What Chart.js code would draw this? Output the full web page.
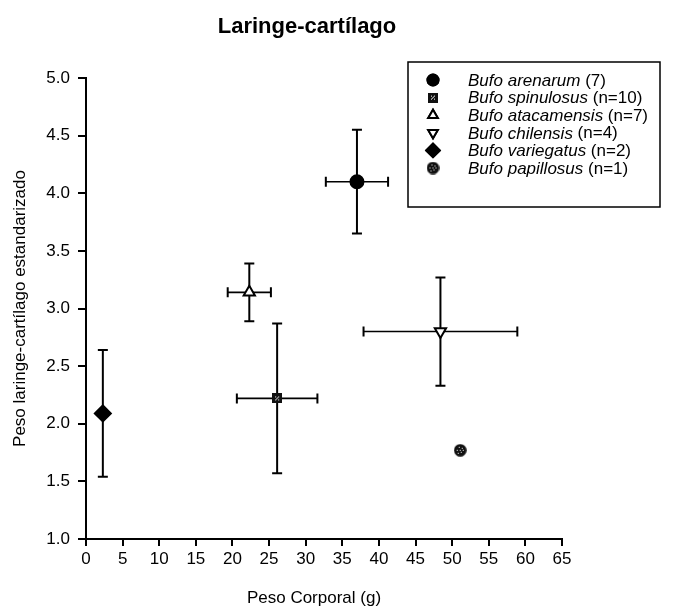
<!DOCTYPE html>
<html><head><meta charset="utf-8">
<script src="https://cdn.jsdelivr.net/npm/chart.js@4.4.1/dist/chart.umd.min.js"></script>
<style>html,body{margin:0;padding:0;background:#fff}#wrap{width:675px;height:611px}</style>
</head><body><div id="wrap"><canvas id="c" width="675" height="611"></canvas></div>
<script>
const titleText = 'Laringe-cartílago';
const xTitle = 'Peso Corporal (g)';
const yTitle = 'Peso laringe-cartílago estandarizado';
const speciesNames = ['Bufo arenarum', 'Bufo spinulosus', 'Bufo atacamensis', 'Bufo chilensis', 'Bufo variegatus', 'Bufo papillosus'];
const speciesN = ['(7)', '(n=10)', '(n=7)', '(n=4)', '(n=2)', '(n=1)'];
const xMean = [37.0, 26.1, 22.3, 48.4, 2.3, 51.1];
const yMean = [4.10, 2.22, 3.14, 2.80, 2.09, 1.77];
const xErr = [4.25, 5.5, 2.95, 10.5, 0, 0];
const yErr = [0.45, 0.65, 0.25, 0.47, 0.55, 0];
const xTicks = {min: 0, max: 65, step: 5};
const yTicks = {min: 1.0, max: 5.0, step: 0.5};

const FONT = '"Liberation Sans", Arial, sans-serif';

function makeSquare() {
  const c = document.createElement('canvas'); c.width = 10; c.height = 10;
  const g = c.getContext('2d');
  g.fillStyle = '#111'; g.fillRect(0, 0, 10, 10);
  g.fillStyle = '#fff';
  [[3,3],[6,3],[4,5],[3,6],[6,6],[5,4]].forEach(p => g.fillRect(p[0], p[1], 1, 1));
  return c;
}
function makeDots() {
  const c = document.createElement('canvas'); c.width = 13; c.height = 13;
  const g = c.getContext('2d');
  g.fillStyle = '#111'; g.beginPath(); g.arc(6.5, 6.5, 6.3, 0, Math.PI * 2); g.fill();
  g.fillStyle = '#fff';
  [[5,3],[8,4],[3,6],[7,8],[6,6],[4,9],[9,6]].forEach(p => g.fillRect(p[0], p[1], 1, 1));
  return c;
}
const sqImg = makeSquare();
const dotImg = makeDots();

const styles = [
  {pointStyle: 'circle', radius: 6.5, bg: '#000', rot: 0},
  {pointStyle: sqImg, radius: 5, bg: '#000', rot: 0},
  {pointStyle: 'triangle', radius: 6.5, bg: '#fff', rot: 0},
  {pointStyle: 'triangle', radius: 6.5, bg: '#fff', rot: 180},
  {pointStyle: 'rectRot', radius: 8, bg: '#000', rot: 0},
  {pointStyle: dotImg, radius: 6.5, bg: '#000', rot: 0}
];

const datasets = speciesNames.map((n, i) => ({
  label: n + ' ' + speciesN[i],
  data: [{x: xMean[i], y: yMean[i]}],
  pointStyle: styles[i].pointStyle,
  pointRadius: styles[i].radius,
  pointRotation: styles[i].rot,
  backgroundColor: styles[i].bg,
  borderColor: '#000',
  borderWidth: 2,
  _xErr: xErr[i],
  _yErr: yErr[i]
}));

const errorBars = {
  id: 'errorBars',
  beforeDatasetsDraw(chart) {
    const ctx = chart.ctx, xs = chart.scales.x, ys = chart.scales.y;
    ctx.save();
    ctx.strokeStyle = '#000';
    chart.data.datasets.forEach(ds => {
      const p = ds.data[0];
      const px = xs.getPixelForValue(p.x), py = ys.getPixelForValue(p.y);
      if (ds._yErr > 0) {
        const t = ys.getPixelForValue(p.y + ds._yErr), b = ys.getPixelForValue(p.y - ds._yErr);
        ctx.lineWidth = 2;
        ctx.beginPath(); ctx.moveTo(px, t); ctx.lineTo(px, b); ctx.stroke();
        ctx.beginPath(); ctx.moveTo(px - 5, t); ctx.lineTo(px + 5, t); ctx.moveTo(px - 5, b); ctx.lineTo(px + 5, b); ctx.stroke();
      }
      if (ds._xErr > 0) {
        const l = xs.getPixelForValue(p.x - ds._xErr), r = xs.getPixelForValue(p.x + ds._xErr);
        ctx.lineWidth = 1.6;
        ctx.beginPath(); ctx.moveTo(l, py); ctx.lineTo(r, py); ctx.stroke();
        ctx.lineWidth = 2;
        ctx.beginPath(); ctx.moveTo(l, py - 5); ctx.lineTo(l, py + 5); ctx.moveTo(r, py - 5); ctx.lineTo(r, py + 5); ctx.stroke();
      }
    });
    ctx.restore();
  }
};

function drawMarker(ctx, i, x, y) {
  const s = styles[i];
  ctx.save();
  ctx.fillStyle = s.bg; ctx.strokeStyle = '#000'; ctx.lineWidth = 2;
  Chart.helpers.drawPoint(ctx, {pointStyle: s.pointStyle, radius: s.radius * 0.85, rotation: s.rot, borderWidth: 2}, x, y);
  if (typeof s.pointStyle === 'string') { ctx.fill(); ctx.stroke(); }
  ctx.restore();
}

const overlay = {
  id: 'overlay',
  afterDraw(chart) {
    const ctx = chart.ctx;
    ctx.save();
    ctx.fillStyle = '#000';
    ctx.font = 'bold 22px ' + FONT;
    ctx.textAlign = 'center'; ctx.textBaseline = 'alphabetic';
    ctx.fillText(titleText, 307, 33);
    ctx.font = '17px ' + FONT;
    ctx.fillText(xTitle, 314, 603);
    // legend box
    const bx = 408, by = 62, bw = 252, bh = 145;
    ctx.fillStyle = '#fff'; ctx.fillRect(bx, by, bw, bh);
    ctx.strokeStyle = '#000'; ctx.lineWidth = 1.5; ctx.strokeRect(bx, by, bw, bh);
    ctx.textAlign = 'left'; ctx.textBaseline = 'middle';
    for (let i = 0; i < speciesNames.length; i++) {
      const yy = 80 + i * 17.6;
      drawMarker(ctx, i, 433, yy);
      ctx.fillStyle = '#000';
      ctx.font = 'italic 17px ' + FONT;
      ctx.fillText(speciesNames[i], 468, yy + 1);
      const w = ctx.measureText(speciesNames[i] + ' ').width;
      ctx.font = '17px ' + FONT;
      ctx.fillText(speciesN[i], 468 + w, yy + 1);
    }
    ctx.restore();
  }
};

new Chart(document.getElementById('c'), {
  type: 'scatter',
  data: {datasets},
  options: {
    responsive: false,
    animation: false,
    layout: {padding: {top: 78, right: 113, left: 10, bottom: 0}},
    plugins: {legend: {display: false}, tooltip: {enabled: false}, title: {display: false}},
    scales: {
      x: {
        type: 'linear', min: xTicks.min, max: xTicks.max,
        ticks: {stepSize: xTicks.step, color: '#000', font: {size: 17, family: FONT}, padding: 3, maxRotation: 0},
        grid: {drawOnChartArea: false, drawTicks: true, tickLength: 7, color: '#000', lineWidth: 2},
        border: {display: true, color: '#000', width: 2},
        title: {display: false},
        afterFit(s) { s.height = 72; }
      },
      y: {
        type: 'linear', min: yTicks.min, max: yTicks.max,
        ticks: {stepSize: yTicks.step, color: '#000', font: {size: 17, family: FONT}, padding: 8, callback: v => v.toFixed(1)},
        grid: {drawOnChartArea: false, drawTicks: true, tickLength: 8, color: '#000', lineWidth: 2},
        border: {display: true, color: '#000', width: 2},
        title: {display: true, text: yTitle, color: '#000', font: {size: 17, family: FONT}, padding: 0},
        afterFit(s) { s.width = 76; }
      }
    }
  },
  plugins: [errorBars, overlay]
});
</script></body></html>
